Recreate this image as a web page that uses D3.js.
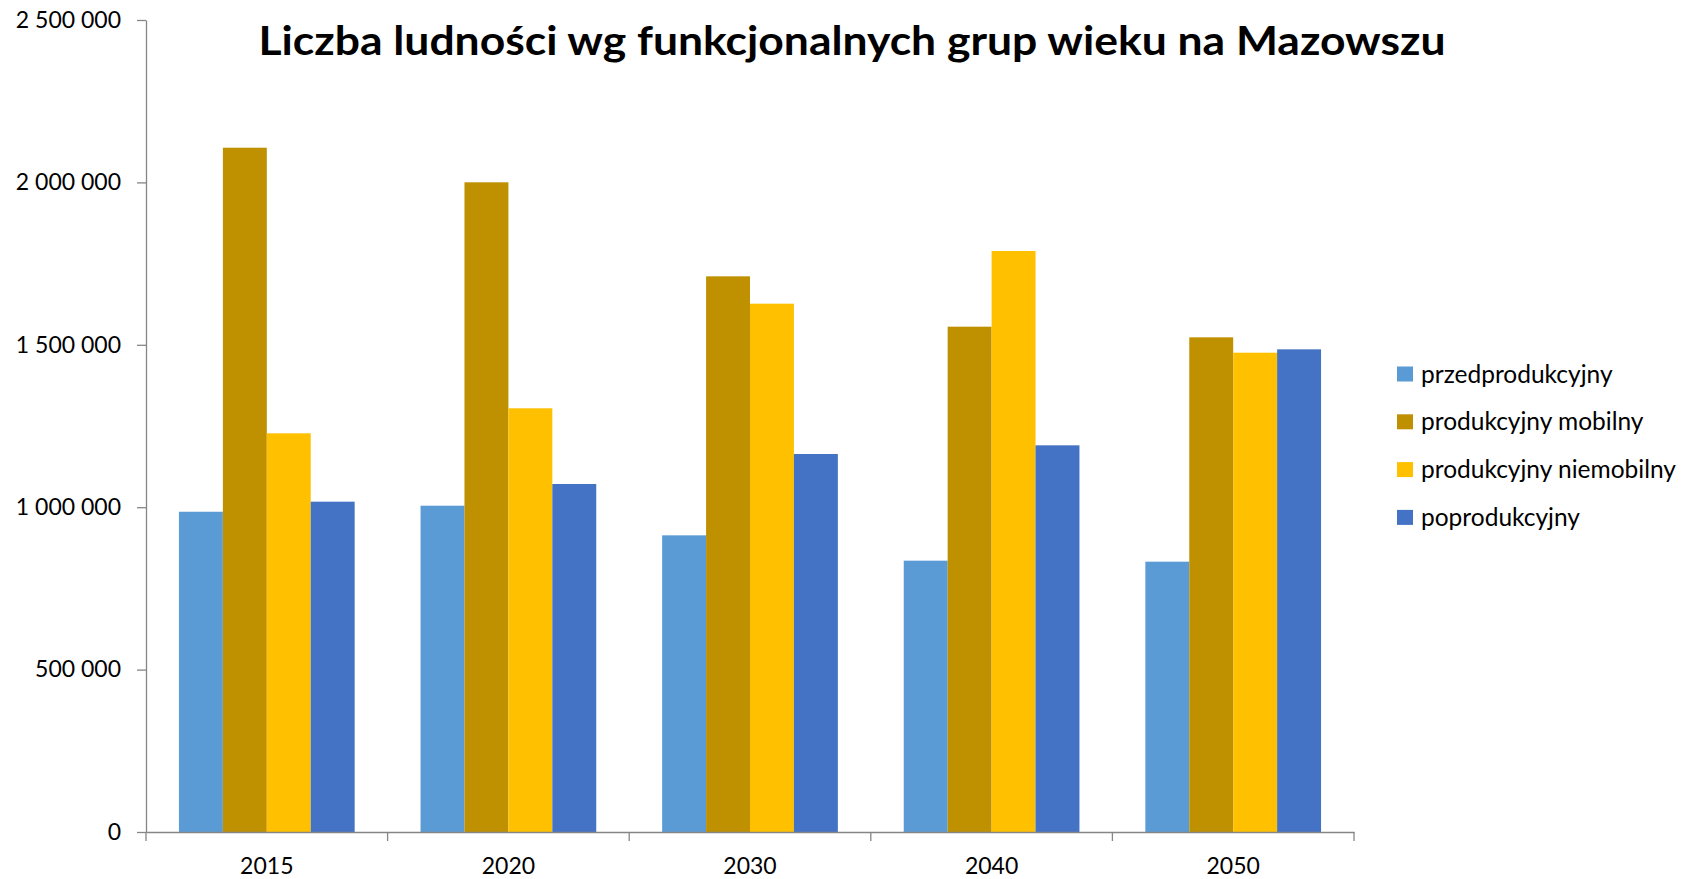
<!DOCTYPE html>
<html>
<head>
<meta charset="utf-8">
<script src="https://cdn.jsdelivr.net/npm/d3@7"></script>
<style>
  html, body { margin: 0; padding: 0; background: #ffffff; }
  svg { display: block; }
  text { font-family: Lato, "Open Sans", sans-serif; fill: #000; }
</style>
</head>
<body>
<svg id="chart" width="1696" height="879"></svg>
<script>
const title = "Liczba ludności wg funkcjonalnych grup wieku na Mazowszu";
const categories = ["2015", "2020", "2030", "2040", "2050"];
const seriesNames = ["przedprodukcyjny", "produkcyjny mobilny", "produkcyjny niemobilny", "poprodukcyjny"];
const seriesColors = ["#5B9BD5", "#BF9000", "#FFC000", "#4472C4"];
const przedprodukcyjny = [986000, 1004600, 913400, 835400, 832300];
const produkcyjnyMobilny = [2106800, 2000300, 1710800, 1555800, 1523000];
const produkcyjnyNiemobilny = [1227500, 1304500, 1626600, 1788800, 1475700];
const poprodukcyjny = [1017000, 1071400, 1163800, 1190500, 1486000];
const yTicks = [0, 500000, 1000000, 1500000, 2000000, 2500000];

const seriesValues = [przedprodukcyjny, produkcyjnyMobilny, produkcyjnyNiemobilny, poprodukcyjny];

const svg = d3.select("#chart");
const plotLeft = 146, plotRight = 1354, plotTop = 20, plotBottom = 832;

const x = d3.scaleBand().domain(categories).range([plotLeft, plotRight]).paddingInner(0).paddingOuter(0);
const bw = x.bandwidth() / 5.5;
const xs = d3.scaleBand().domain(d3.range(4)).range([bw * 0.75, bw * 4.75]).padding(0);
const y = d3.scaleLinear().domain([0, 2500000]).range([plotBottom, plotTop]);

const fmt = v => d3.format(",")(v).replace(/,/g, " ");

// bars
const data = [];
categories.forEach((c, i) => seriesValues.forEach((s, j) => data.push({c, j, v: s[i]})));
svg.append("g").selectAll("rect").data(data).join("rect")
  .attr("x", d => x(d.c) + xs(d.j))
  .attr("width", xs.bandwidth())
  .attr("y", d => y(d.v))
  .attr("height", d => y(0) - y(d.v))
  .attr("fill", d => seriesColors[d.j]);

// y axis
const yAxis = svg.append("g").attr("transform", `translate(${plotLeft},0)`)
  .call(d3.axisLeft(y).tickValues(yTicks).tickFormat(fmt).tickSize(9).tickSizeOuter(0).tickPadding(16));
yAxis.select(".domain").attr("stroke", "#868686").attr("stroke-width", 1.3);
yAxis.selectAll(".tick line").attr("stroke", "#868686").attr("stroke-width", 1.3);
yAxis.selectAll("text").attr("font-size", 23).attr("font-family", "Lato, sans-serif").attr("fill", "#000");

// x axis
const xAxis = svg.append("g").attr("transform", `translate(0,${plotBottom})`)
  .call(d3.axisBottom(x).tickSize(0).tickPadding(26));
xAxis.select(".domain").attr("stroke", "#868686").attr("stroke-width", 1.3);
xAxis.selectAll("text").attr("font-size", 23).attr("font-family", "Lato, sans-serif").attr("fill", "#000");
const boundaries = categories.map(c => x(c)).concat([plotRight]);
xAxis.selectAll("line.sep").data(boundaries).join("line").attr("class", "sep")
  .attr("x1", d => d).attr("x2", d => d).attr("y1", 0).attr("y2", 9)
  .attr("stroke", "#868686").attr("stroke-width", 1.3);

// title
svg.append("text")
  .attr("x", 852).attr("y", 55)
  .attr("text-anchor", "middle")
  .attr("font-size", 41).attr("font-weight", "bold")
  .attr("textLength", 1187).attr("lengthAdjust", "spacingAndGlyphs")
  .text(title);

// legend
const lg = svg.append("g").attr("transform", "translate(1397,374)");
const items = lg.selectAll("g").data(seriesNames).join("g")
  .attr("transform", (d, i) => `translate(0,${i * 47.8})`);
items.append("rect").attr("x", 0).attr("y", -7.5).attr("width", 16).attr("height", 15)
  .attr("fill", (d, i) => seriesColors[i]);
items.append("text").attr("x", 24).attr("y", 0).attr("dy", "0.35em")
  .attr("font-size", 24.5).text(d => d);
</script>
</body>
</html>
